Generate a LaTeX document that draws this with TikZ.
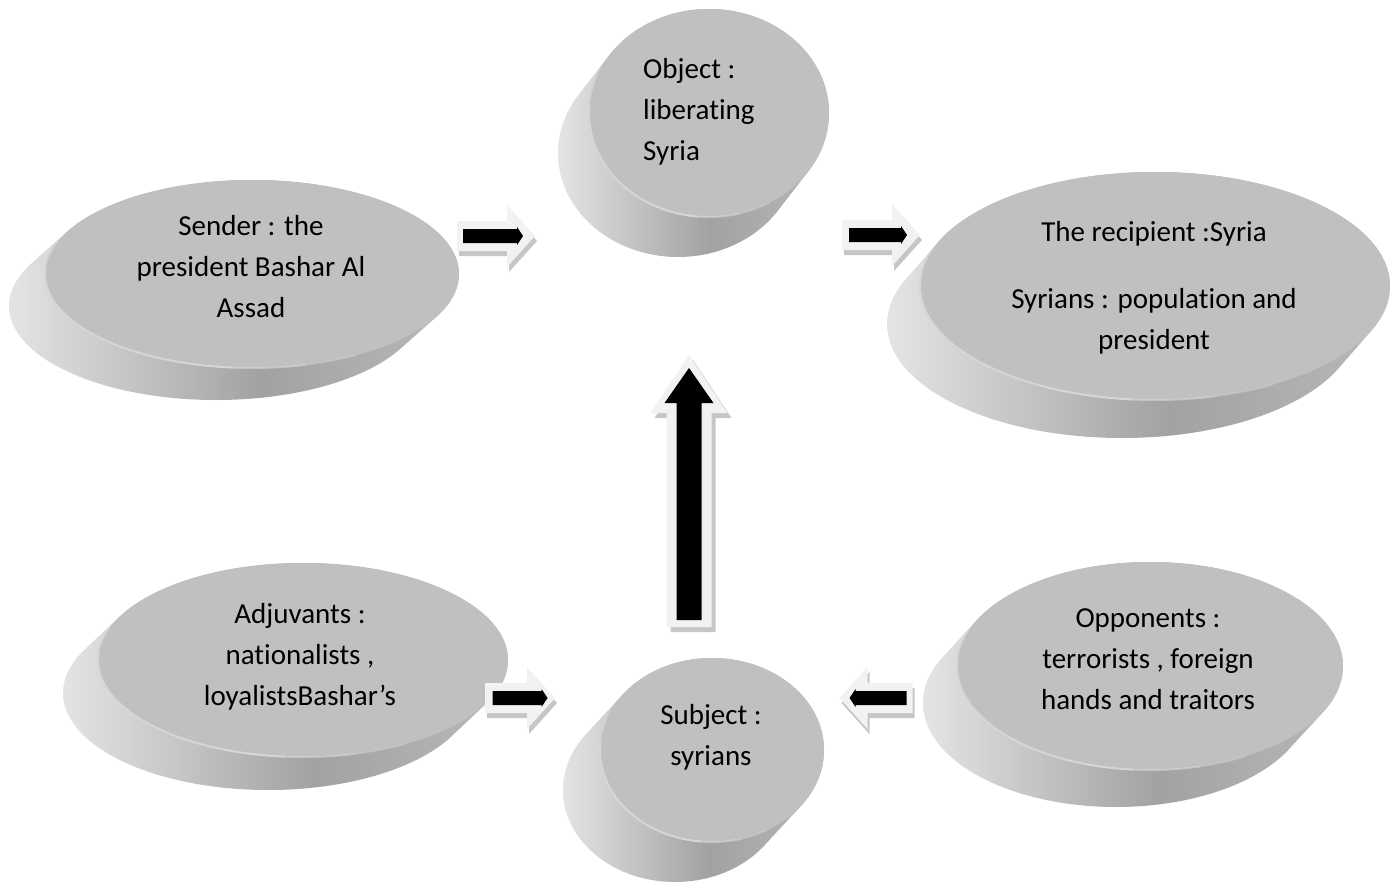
\documentclass[tikz,border=0pt]{standalone}
\usepackage{fontspec}
\setmainfont{Carlito}[Ligatures=NoCommon, RawFeature={-liga;-clig;-dlig}]
\definecolor{topc}{HTML}{C0C0C0}
\definecolor{sideL}{HTML}{E4E4E4}
\definecolor{sideM}{HTML}{A2A2A2}
\definecolor{sideR}{HTML}{B8B8B8}
\definecolor{rimc}{HTML}{D6D6D6}
\definecolor{arrowc}{HTML}{F2F2F2}
\definecolor{shadc}{HTML}{C6C6C6}
\pgfdeclarehorizontalshading{discside}{100bp}{color(0bp)=(sideL); color(25bp)=(sideL); color(53bp)=(sideM); color(75bp)=(sideR); color(100bp)=(sideR)}
\newcommand\rimarc[7]{%
  \draw[rimc, line width=2pt, opacity=#7] ({#1+#3*cos(#5)},{#2+#4*sin(#5)}) arc[start angle=#5, end angle=#6, x radius=#3, y radius=#4];
}
% name cx cy a b dx dy
\newcommand\drawdisc[7]{%
  \shade[shading=discside] \foreach \i in {0,...,30}{ ({#2+\i*(#6)/30},{#3+\i*(#7)/30}) ellipse [x radius=#4, y radius=#5] };
  \fill[topc] (#2,#3) ellipse [x radius=#4, y radius=#5];
  \rimarc{#2}{#3}{#4}{#5}{60}{75}{0.3}
  \rimarc{#2}{#3}{#4}{#5}{75}{95}{0.6}
  \rimarc{#2}{#3}{#4}{#5}{95}{185}{1}
  \rimarc{#2}{#3}{#4}{#5}{185}{200}{0.5}
  \coordinate (#1) at (#2,#3);
}
% L sw hl hw
\newcommand\arrowpath[4]{({-(#1)/2},{-(#2)}) -- ({(#1)/2-(#3)},{-(#2)}) -- ({(#1)/2-(#3)},{-(#4)}) -- ({(#1)/2},0) -- ({(#1)/2-(#3)},{#4}) -- ({(#1)/2-(#3)},{#2}) -- ({-(#1)/2},{#2}) -- cycle}
% name cx cy rot L iL ishift
\newcommand\smallarrow[7]{%
  \begin{scope}[shift={({#2+2},{#3+5})},rotate=#4]
    \fill[shadc] \arrowpath{#5}{15}{28}{31};
  \end{scope}
  \begin{scope}[shift={(#2,#3)},rotate=#4]
    \fill[arrowc] \arrowpath{#5}{15}{28}{31};
    \begin{scope}[xshift=#7]
      \fill[black] \arrowpath{#6}{7}{6}{9};
    \end{scope}
    \coordinate (#1) at (0,0);
  \end{scope}
}
\tikzset{lbl/.style={font=\fontsize{29}{41}\selectfont, align=center, inner sep=0pt, text=black}}
\begin{document}
\begin{tikzpicture}[x=1pt,y=-1pt]
\useasboundingbox (0,0) rectangle (1393,886);
% discs
\drawdisc{dsender}{252}{274}{207}{94}{-36}{32}
\drawdisc{dobject}{709}{113}{120}{104}{-31}{40}
\drawdisc{dsubject}{712}{750}{112}{92}{-37}{40}
\drawdisc{drecip}{1155}{286}{235}{114}{-33}{38}
\drawdisc{dadj}{303}{660}{205}{97}{-35}{33}
\drawdisc{dopp}{1150}{666}{193}{104}{-34}{37}
% texts
\node[lbl] (sender) at (251,267) {Sender : the\\president Bashar Al\\Assad};
\node[lbl, align=left, anchor=west] (object) at (643,112) {Object :\\liberating\\Syria};
\node[lbl] (recip) at (1154,288) {The recipient :Syria\\[26pt]Syrians : population and\\president};
\node[lbl] (adj) at (300,657) {Adjuvants :\\nationalists ,\\loyalistsBashar’s};
\node[lbl] (subject) at (711,737) {Subject :\\syrians};
\node[lbl] (opp) at (1148,659) {Opponents :\\terrorists , foreign\\hands and traitors};
% arrows
\smallarrow{a1}{496}{236}{0}{78}{60}{-3}
\smallarrow{a2}{881}{235}{0}{78}{58}{-3}
\smallarrow{a3}{520}{698}{0}{70}{55}{0}
\smallarrow{a4}{876}{698}{180}{73}{57}{-2}
\begin{scope}[shift={(693,496)},rotate=90]
  \fill[shadc] \arrowpath{272}{22.5}{58}{38.5};
\end{scope}
\begin{scope}[shift={(689,491)},rotate=90]
  \fill[arrowc] \arrowpath{272}{22.5}{58}{38.5};
  \begin{scope}[xshift=-3]
    \fill[black] \arrowpath{252}{12.5}{35}{24.5};
  \end{scope}
  \coordinate (a5) at (0,0);
\end{scope}
\end{tikzpicture}
\end{document}
